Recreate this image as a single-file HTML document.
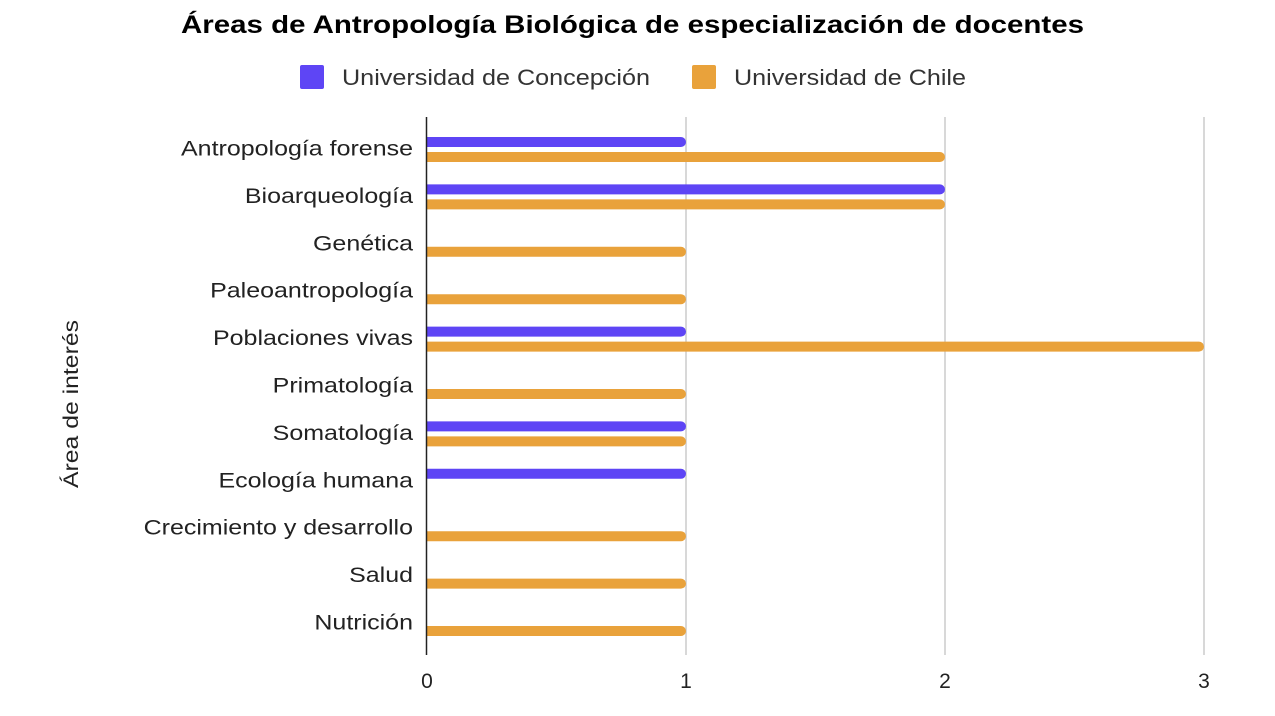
<!DOCTYPE html>
<html><head><meta charset="utf-8"><style>
body{margin:0;background:#fff;font-family:"Liberation Sans",sans-serif}
svg text{font-family:"Liberation Sans",sans-serif}
</style></head><body>
<svg id="chart" width="1275" height="711" xmlns="http://www.w3.org/2000/svg">
<text x="181" y="33" font-size="25" font-weight="bold" fill="#000" textLength="903" lengthAdjust="spacingAndGlyphs">Áreas de Antropología Biológica de especialización de docentes</text>
<g>
<g><rect x="300" y="65" width="24" height="24" rx="2" fill="#5e45f5"/><text x="342" y="85" font-size="22" fill="#333" textLength="308" lengthAdjust="spacingAndGlyphs">Universidad de Concepción</text></g>
<g><rect x="692" y="65" width="24" height="24" rx="2" fill="#e9a23b"/><text x="734" y="85" font-size="22" fill="#333" textLength="232" lengthAdjust="spacingAndGlyphs">Universidad de Chile</text></g>
</g>
<text transform="translate(78,404) rotate(-90)" x="-84" font-size="21" fill="#222" textLength="168" lengthAdjust="spacingAndGlyphs">Área de interés</text>
<g id="grid"></g><g id="bars"></g><g id="labels"></g>
</svg>
<script>
const categories=["Antropología forense","Bioarqueología","Genética","Paleoantropología","Poblaciones vivas","Primatología","Somatología","Ecología humana","Crecimiento y desarrollo","Salud","Nutrición"];
const concepcion=[1,2,0,0,1,0,1,1,0,0,0];
const chile=[2,2,1,1,3,1,1,0,1,1,1];
const ticks=[0,1,2,3];
const NS="http://www.w3.org/2000/svg";
const x0=427,unit=259,top0=149.5,step=47.4;
const xs=v=>x0+v*unit;
const yc=i=>top0+i*step;
function mk(t,a,p){const e=document.createElementNS(NS,t);for(const k in a)e.setAttribute(k,a[k]);p.appendChild(e);return e;}
const grid=document.getElementById('grid'),bars=document.getElementById('bars'),labels=document.getElementById('labels');
ticks.forEach(t=>{
 if(t>0){const l=mk('line',{x1:xs(t),x2:xs(t),y1:117,y2:655,stroke:'#ccc','stroke-width':1.5},grid);
 
 }
 const tx=mk('text',{x:xs(t),y:688,'text-anchor':'middle','font-size':21,fill:'#222'},labels);tx.textContent=t;
 
 
});
function bar(v,y,c,name){
 if(v<=0)return;
 const w=xs(v)-x0;
 const p=mk('path',{d:`M${x0},${y-5}H${x0+w-5}A5,5 0 0 1 ${x0+w-5},${y+5}H${x0}Z`,fill:c},bars);
 
 
}
categories.forEach((c,i)=>{
 const y=yc(i);
 bar(concepcion[i],y-7.5,'#5e45f5','bar-concepcion-'+i);
 bar(chile[i],y+7.5,'#e9a23b','bar-chile-'+i);
 const t=mk('text',{x:413,y:y+6,'text-anchor':'end','font-size':21,fill:'#222'},labels);t.textContent=c;
 
 
 const len=t.getComputedTextLength();
 t.setAttribute('textLength',(len*1.19).toFixed(1));
 t.setAttribute('lengthAdjust','spacingAndGlyphs');
});
const ax=mk('line',{x1:426.5,x2:426.5,y1:117,y2:655,stroke:'#222','stroke-width':1.5},labels);


</script>
</body></html>
